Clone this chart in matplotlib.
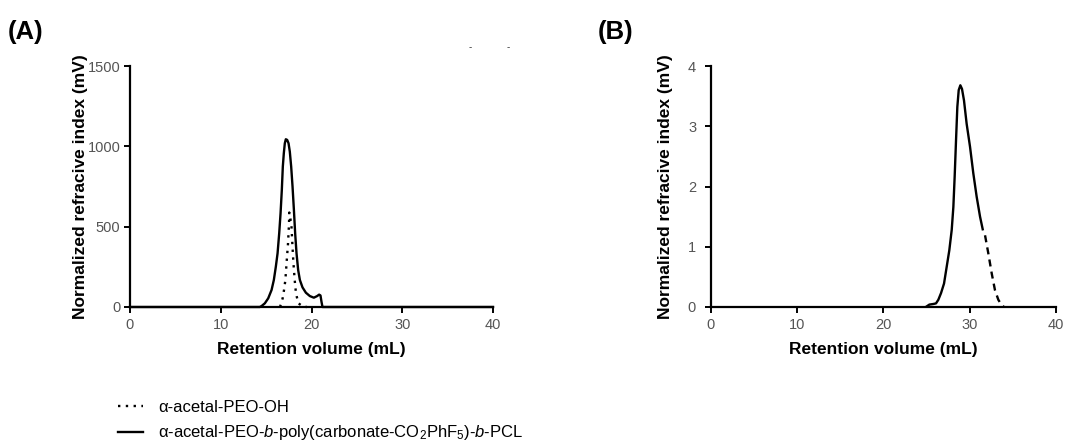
import matplotlib
matplotlib.use('Agg')
import matplotlib.pyplot as plt

plt.rcParams['font.family'] = ['Liberation Sans', 'DejaVu Sans']
plt.rcParams['mathtext.fontset'] = 'custom'
plt.rcParams['mathtext.rm'] = 'Liberation Sans'
plt.rcParams['mathtext.it'] = 'Liberation Sans:italic'
plt.rcParams['mathtext.bf'] = 'Liberation Sans:bold'

# (A) alpha-acetal-PEO-OH trace (dotted)
a_peo_x = [16.53, 16.82, 16.97, 17.12, 17.26, 17.41, 17.52, 17.55, 17.78, 17.89,
           18.0, 18.15, 18.29, 18.55, 19.1, 19.5]
a_peo_y = [0, 54, 105, 167, 280, 393, 516, 588, 516, 393,
           280, 167, 85, 23, 2, 0]

# (A) block copolymer trace (solid)
a_cop_x = [0, 14.3, 14.5, 14.86, 15.23, 15.6, 15.85, 16.07, 16.26, 16.44, 16.59,
           16.73, 16.84, 16.95, 17.06, 17.17, 17.32, 17.47, 17.61, 17.76, 17.91,
           18.06, 18.2, 18.35, 18.53, 18.72, 19.01, 19.38, 19.82, 20.26, 20.62,
           20.84, 20.99, 21.1, 21.21, 40]
a_cop_y = [0, 0, 6, 23, 54, 106, 168, 251, 334, 458, 583,
           729, 874, 957, 1019, 1044, 1040, 1019, 967, 874, 750,
           605, 458, 334, 230, 168, 122, 89, 68, 58, 68,
           77, 72, 33, 0, 0]

# (B) block copolymer trace, solid part and dashed tail
b_cop_x = [25.02, 25.33, 25.79, 26.1, 26.37, 26.68, 27.03, 27.34, 27.64, 27.92,
           28.11, 28.26, 28.42, 28.57, 28.73, 28.92, 29.11, 29.34, 29.65, 30.04,
           30.42, 30.81, 31.2, 31.51]
b_cop_y = [0.01, 0.04, 0.05, 0.06, 0.12, 0.23, 0.39, 0.67, 0.94, 1.28,
           1.66, 2.16, 2.77, 3.32, 3.6, 3.68, 3.62, 3.43, 3.04, 2.66,
           2.22, 1.83, 1.5, 1.29]
b_tail_x = [31.78, 32.16, 32.55, 32.93, 33.32, 33.71, 33.98]
b_tail_y = [1.19, 0.89, 0.56, 0.28, 0.12, 0.03, 0.0]

x_ticks = [0, 10, 20, 30, 40]
a_y_ticks = [0, 500, 1000, 1500]
b_y_ticks = [0, 1, 2, 3, 4]

label_peo = 'α-acetal-PEO-OH'
label_cop = r'α-acetal-PEO-$\it{b}$-poly(carbonate-CO$_2$PhF$_5$)-$\it{b}$-PCL'
xlabel = 'Retention volume (mL)'
ylabel = 'Normalized refracive index (mV)'

W, H = 1089, 445


def px_axes(fig, left, right, top, bottom):
    return fig.add_axes([left / W, 1 - bottom / H, (right - left) / W, (bottom - top) / H])


def style_axes(ax, yticks, ypad):
    for side in ['top', 'right']:
        ax.spines[side].set_visible(False)
    for side in ['left', 'bottom']:
        ax.spines[side].set_linewidth(1.6)
    ax.set_xlim(0, 40)
    ax.set_ylim(yticks[0], yticks[-1])
    ax.set_xticks(x_ticks)
    ax.set_yticks(yticks)
    ax.tick_params(direction='out', length=4.5, width=1.4, labelsize=10.5, labelcolor='#555555')
    ax.tick_params(axis='y', pad=ypad)
    ax.tick_params(axis='x', pad=3.5)
    ax.set_xlabel(xlabel, fontsize=12.5, fontweight='bold', va='center')
    ax.set_ylabel(ylabel, fontsize=12.5, fontweight='bold', va='center')


fig = plt.figure(figsize=(W / 100, H / 100), dpi=100)

ax1 = px_axes(fig, 130, 493, 66, 307)
l_peo, = ax1.plot(a_peo_x, a_peo_y, color='black', lw=1.7, linestyle=(0, (1, 2.3)), clip_on=False)
l_cop, = ax1.plot(a_cop_x, a_cop_y, color='black', lw=1.7, clip_on=False)
style_axes(ax1, a_y_ticks, 2.5)
ax1.xaxis.set_label_coords(0.5, -0.178)
ax1.yaxis.set_label_coords(-0.135, 0.5)

ax2 = px_axes(fig, 710.7, 1056, 66, 307)
ax2.plot(b_cop_x, b_cop_y, color='black', lw=1.7, clip_on=False)
ax2.plot(b_tail_x, b_tail_y, color='black', lw=1.7, linestyle=(0, (3, 2.2)), clip_on=False)
style_axes(ax2, b_y_ticks, 6)
ax2.xaxis.set_label_coords(0.5, -0.178)
ax2.yaxis.set_label_coords(-0.132, 0.5)

fig.text(8 / W, 1 - 32 / H, '(A)', fontsize=18.5, fontweight='bold', va='center', ha='left')
fig.text(598 / W, 1 - 32 / H, '(B)', fontsize=18.5, fontweight='bold', va='center', ha='left')
# stray marks at the top of panel A
fig.text(470 / W, 1 - 47 / H, '-', fontsize=7, color='#333333', ha='center', va='center')
fig.text(508 / W, 1 - 47 / H, '-', fontsize=7, color='#333333', ha='center', va='center')

fig.legend([l_peo, l_cop], [label_peo, label_cop], loc='upper left',
           bbox_to_anchor=(118 / W, 1 - 400 / H), frameon=False, fontsize=12,
           handlelength=1.5, handletextpad=0.9, labelspacing=0.5,
           borderpad=0, borderaxespad=0)

fig.savefig('out.png', dpi=100)
